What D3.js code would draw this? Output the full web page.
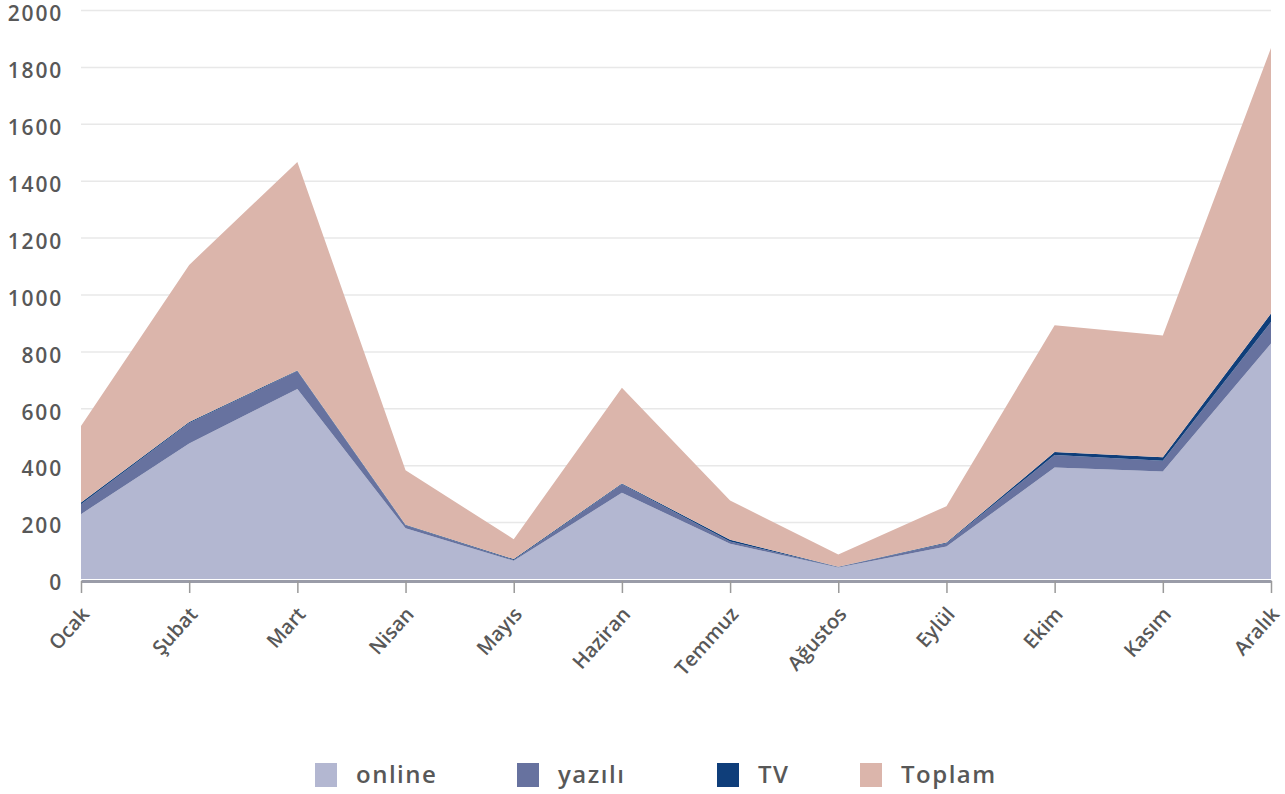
<!DOCTYPE html>
<html lang="tr">
<head>
<meta charset="utf-8">
<title>Aylık dağılım</title>
<style>
  body { margin: 0; background: #fff; font-family: 'Open Sans', sans-serif; }
  svg { display: block; }
  svg text { font-family: 'Open Sans', sans-serif; }
  .grid line { stroke: #e8e8e8; stroke-width: 1.5; }
  .grid path { display: none; }
  .yaxis text { font-size: 21px; font-weight: 600; fill: #585858; letter-spacing: 1.8px; }
  .yaxis path, .yaxis line { display: none; }
  .xaxis text { font-size: 20px; font-weight: 600; fill: #585858; }
  .xaxis line { stroke: #9a9a9a; stroke-width: 1.5; }
  .xaxis path { stroke: #9a9ca8; stroke-width: 3; }
  .legend text { font-size: 24px; font-weight: 600; fill: #585858; letter-spacing: 1.5px; }
</style>
</head>
<body>
<svg width="1285" height="794"></svg>
<script src="https://d3js.org/d3.v7.min.js"></script>
<script>
var months = ['Ocak', 'Şubat', 'Mart', 'Nisan', 'Mayıs', 'Haziran', 'Temmuz', 'Ağustos', 'Eylül', 'Ekim', 'Kasım', 'Aralık'];
var online = [228, 476, 668, 178, 64, 303, 124, 40, 114, 392, 378, 828];
var yazili = [35, 72, 63, 11, 3, 30, 8, 2, 12, 44, 38, 75];
var tv = [6, 4, 2, 2, 3, 3, 6, 1, 2, 10, 12, 30];
var toplam = [269, 552, 733, 191, 70, 336, 138, 43, 128, 446, 428, 933];
var yTicks = [0, 200, 400, 600, 800, 1000, 1200, 1400, 1600, 1800, 2000];

var keys = ['online', 'yazili', 'tv', 'toplam'];
var names = ['online', 'yazılı', 'TV', 'Toplam'];
var colors = ['#b3b7d1', '#67729f', '#0f3e7a', '#dbb5ab'];

var table = months.map(function (m, i) {
  return { month: m, online: online[i], yazili: yazili[i], tv: tv[i], toplam: toplam[i] };
});

var svg = d3.select('svg');
var plotLeft = 81, plotRight = 1271, plotTop = 10, plotBottom = 579;

var x = d3.scalePoint().domain(months).range([plotLeft, plotRight]);
var y = d3.scaleLinear().domain([0, 2000]).range([plotBottom, plotTop]);

// grid
svg.append('g')
  .attr('class', 'grid')
  .attr('transform', 'translate(' + plotLeft + ',0)')
  .call(d3.axisLeft(y).tickValues(yTicks.slice(1)).tickSize(-(plotRight - plotLeft)).tickFormat(''));

var series = d3.stack().keys(keys)(table);

var area = d3.area()
  .x(function (d) { return x(d.data.month); })
  .y0(function (d) { return y(d[0]); })
  .y1(function (d) { return y(d[1]); });

svg.append('g').selectAll('path')
  .data(series)
  .join('path')
  .attr('fill', function (d, i) { return colors[i]; })
  .attr('d', area);

// y axis labels
svg.append('g')
  .attr('class', 'yaxis')
  .attr('transform', 'translate(63,4)')
  .call(d3.axisLeft(y).tickValues(yTicks).tickFormat(d3.format('d')).tickSize(0).tickPadding(0));

// x axis
var xa = svg.append('g')
  .attr('class', 'xaxis')
  .attr('transform', 'translate(0,' + (plotBottom + 2) + ')')
  .call(d3.axisBottom(x).tickSize(12).tickSizeOuter(0));

xa.selectAll('text')
  .attr('text-anchor', 'end')
  .attr('y', 0)
  .attr('dy', 0)
  .attr('transform', 'translate(9,34) rotate(-48)');

// legend
var legX = [315, 517, 717, 860];
var leg = svg.append('g').attr('class', 'legend')
  .selectAll('g')
  .data(names)
  .join('g')
  .attr('transform', function (d, i) { return 'translate(' + legX[i] + ',763)'; });

leg.append('rect')
  .attr('width', 22).attr('height', 24)
  .attr('fill', function (d, i) { return colors[i]; });

leg.append('text')
  .attr('x', 41).attr('y', 20)
  .text(function (d) { return d; });
</script>
</body>
</html>
